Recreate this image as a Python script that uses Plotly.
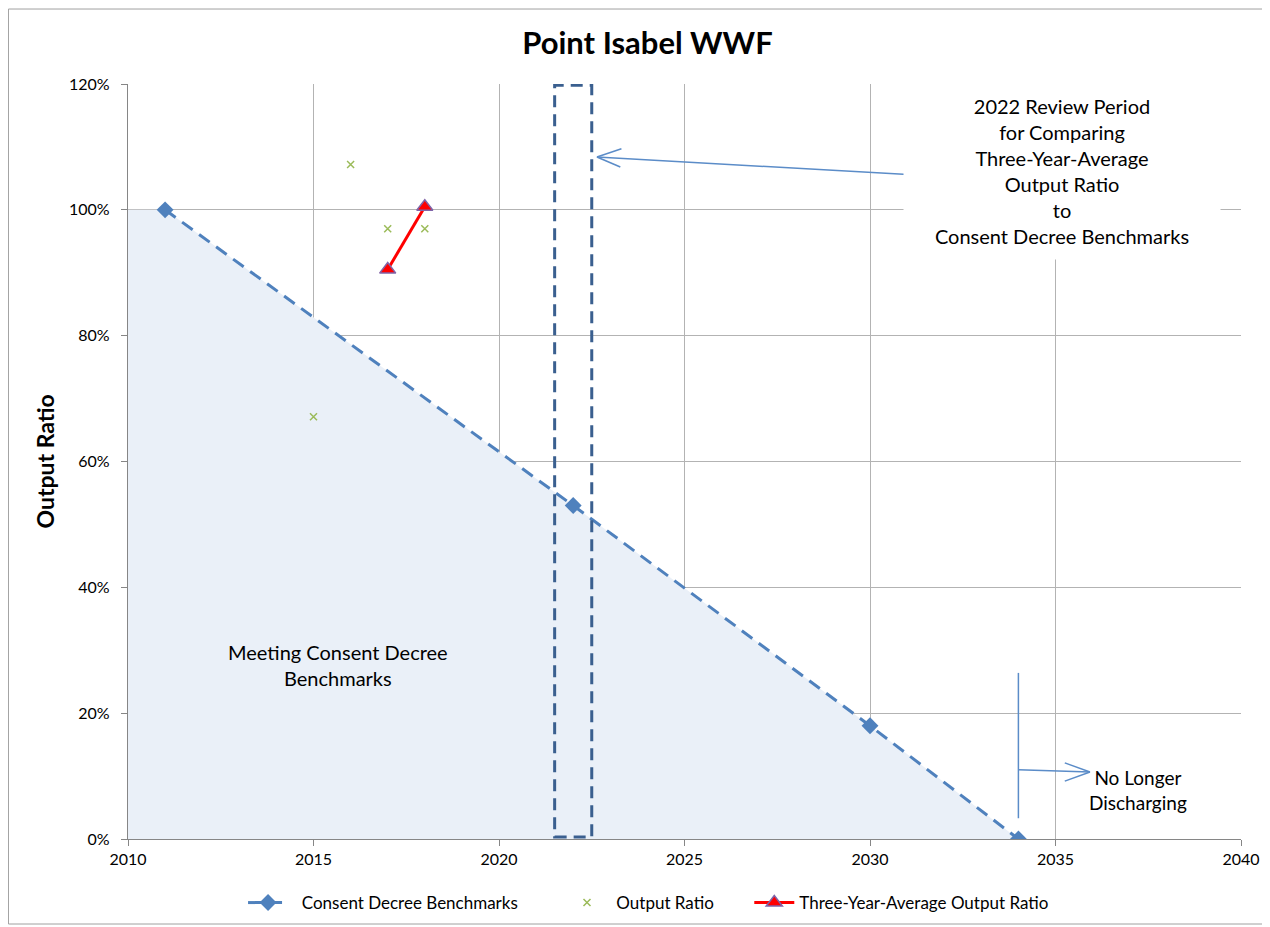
import plotly.graph_objects as go

# Data
bench_years = [2011, 2022, 2030, 2034]
bench_vals = [100, 53, 18, 0]

fill_years = [2010, 2011, 2022, 2030, 2034]
fill_vals = [100, 100, 53, 18, 0]

ratio_years = [2015, 2016, 2017, 2018]
ratio_vals = [67.1, 107.2, 97.0, 97.0]

avg_years = [2017, 2018]
avg_vals = [90.5, 100.5]

x_ticks = [2010, 2015, 2020, 2025, 2030, 2035, 2040]
y_ticks = [0, 20, 40, 60, 80, 100, 120]

FONT = "Lato, 'Open Sans', sans-serif"
BLUE = "#4F81BD"
ARROW = "#5B8CC8"
NB = "\u00a0"

fig = go.Figure()

fig.add_trace(go.Scatter(
    x=fill_years, y=fill_vals, mode="none", fill="tozeroy",
    fillcolor="#EAF0F8", showlegend=False, hoverinfo="skip"))

fig.add_trace(go.Scatter(
    x=bench_years, y=bench_vals, mode="lines+markers",
    name=NB * 2 + "Consent Decree Benchmarks" + NB * 9,
    line=dict(color=BLUE, width=3, dash="13px,8px"),
    marker=dict(symbol="diamond", size=13, color=BLUE)))

fig.add_trace(go.Scatter(
    x=ratio_years, y=ratio_vals, mode="markers", name=NB + "Output Ratio" + NB * 7,
    marker=dict(symbol="x-thin", size=7, line=dict(color="#9BBB59", width=1.5), color="#9BBB59")))

fig.add_trace(go.Scatter(
    x=avg_years, y=avg_vals, mode="lines+markers",
    name="Three-Year-Average Output Ratio",
    line=dict(color="#FF0000", width=3),
    marker=dict(symbol="triangle-up", size=14, color="#FF0000",
                line=dict(color="#7F64A8", width=1.5))))

LN = dict(color=ARROW, width=1.5)
shapes = [
    # review period rectangle
    dict(type="rect", xref="x", yref="y", x0=2021.5, x1=2022.5, y0=0.3, y1=119.8,
         line=dict(color="#3A5F8F", width=3, dash="12px,7px"), layer="above"),
    # arrow to review period
    dict(type="line", xref="x", yref="y", x0=2031.02, y0=105.6, x1=2022.64, y1=108.4, line=LN),
    dict(type="line", xref="x", yref="y", x0=2022.64, y0=108.4, x1=2023.3, y1=109.7, line=LN),
    dict(type="line", xref="x", yref="y", x0=2022.64, y0=108.4, x1=2023.27, y1=106.8, line=LN),
    # no longer discharging bracket
    dict(type="line", xref="x", yref="y", x0=2034.0, y0=26.4, x1=2034.0, y1=3.3, line=LN),
    dict(type="line", xref="x", yref="y", x0=2034.0, y0=11.0, x1=2035.93, y1=10.65, line=LN),
    dict(type="line", xref="x", yref="y", x0=2035.93, y0=10.65, x1=2035.25, y1=12.1, line=LN),
    dict(type="line", xref="x", yref="y", x0=2035.93, y0=10.65, x1=2035.25, y1=9.2, line=LN),
    # outer chart border
    dict(type="rect", xref="paper", yref="paper", x0=-0.1074, x1=1.0234, y0=-0.1126, y1=1.0993,
         line=dict(color="#A0A0A0", width=1)),
]

annotations = [
    dict(x=2035.18, y=106.1, xref="x", yref="y", showarrow=False,
         text="2022 Review Period<br>for Comparing<br>Three-Year-Average<br>Output Ratio<br>to<br>Consent Decree Benchmarks",
         font=dict(family=FONT, size=20, color="#000"), bgcolor="#FFFFFF",
         width=310, height=170, borderpad=3, align="center", valign="middle"),
    dict(x=2015.66, y=27.66, xref="x", yref="y", showarrow=False,
         text="Meeting Consent Decree<br>Benchmarks",
         font=dict(family=FONT, size=20, color="#000"), align="center"),
    dict(x=2037.22, y=7.8, xref="x", yref="y", showarrow=False,
         text="No Longer<br>Discharging",
         font=dict(family=FONT, size=19, color="#000"), align="center"),
    dict(x=-0.0746, y=0.5, xref="paper", yref="paper", showarrow=False, textangle=-90,
         xanchor="center", yanchor="middle",
         text="<b>Output Ratio</b>", font=dict(family=FONT, size=23, color="#000")),
]

W, H = 1262, 919
fig.update_layout(
    width=W, height=H,
    margin=dict(l=120, r=29, t=76, b=88, autoexpand=False),
    paper_bgcolor="#FFFFFF", plot_bgcolor="#FFFFFF",
    font=dict(family=FONT, size=16, color="#000"),
    title=dict(text="<b>Point Isabel WWF</b>", x=0.4667, xanchor="center", y=1 - 35 / H, yanchor="middle",
               xref="paper", yref="container", font=dict(family=FONT, size=31, color="#000")),
    showlegend=True,
    legend=dict(orientation="h", x=0.4677, xanchor="center", y=-0.0848, yanchor="middle",
                font=dict(family=FONT, size=17), itemwidth=40, bgcolor="rgba(0,0,0,0)"),
    shapes=shapes, annotations=annotations,
)

AX = dict(showgrid=True, gridcolor="#B3B3B3", gridwidth=1, zeroline=False,
          showline=True, linecolor="#868686", mirror=False, ticks="outside", ticklen=6,
          tickcolor="#868686", tickfont=dict(size=16), automargin=False)
fig.update_xaxes(range=[2010, 2040], tickvals=x_ticks, ticktext=[str(v) for v in x_ticks], **AX)
fig.update_yaxes(range=[0, 120], tickvals=y_ticks, ticktext=[f"{v}%{NB}{NB}" for v in y_ticks], **AX)

fig.write_html("out.html")
